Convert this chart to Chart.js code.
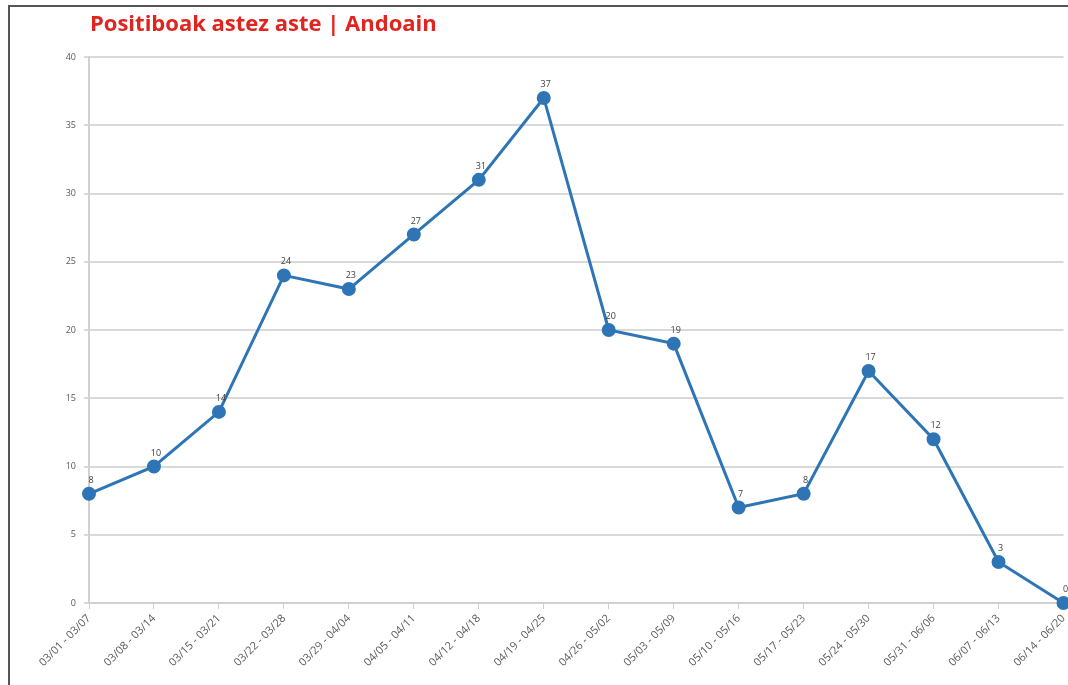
<!DOCTYPE html>
<html>
<head>
<meta charset="utf-8">
<script src="https://cdn.jsdelivr.net/npm/chart.js@4.4.1/dist/chart.umd.min.js"></script>
<style>
  html, body { margin: 0; padding: 0; background: #fff; }
  #wrap { position: relative; width: 1068px; height: 685px; overflow: hidden; }
  #frame { position: absolute; left: 8px; top: 5px; width: 1100px; height: 700px;
           border-left: 2px solid #555; border-top: 2px solid #555; pointer-events: none; }
  canvas { position: absolute; left: 0; top: 0; }
</style>
</head>
<body>
<div id="wrap">
  <canvas id="c" width="1072" height="685"></canvas>
  <div id="frame"></div>
</div>
<script>
const titleText = "Positiboak astez aste | Andoain";
const weeks = ["03/01 - 03/07", "03/08 - 03/14", "03/15 - 03/21", "03/22 - 03/28",
  "03/29 - 04/04", "04/05 - 04/11", "04/12 - 04/18", "04/19 - 04/25",
  "04/26 - 05/02", "05/03 - 05/09", "05/10 - 05/16", "05/17 - 05/23",
  "05/24 - 05/30", "05/31 - 06/06", "06/07 - 06/13", "06/14 - 06/20"];
const positives = [8, 10, 14, 24, 23, 27, 31, 37, 20, 19, 7, 8, 17, 12, 3, 0];
const yTicks = [0, 5, 10, 15, 20, 25, 30, 35, 40];

const titlePlugin = {
  id: 'titleDraw',
  afterDraw(chart) {
    const ctx = chart.ctx;
    ctx.save();
    ctx.font = 'bold 22px "Open Sans", Lato, sans-serif';
    ctx.fillStyle = '#e0241f';
    ctx.textBaseline = 'middle';
    ctx.textAlign = 'left';
    ctx.fillText(titleText, 90, 25);
    ctx.restore();
  }
};

const labelPlugin = {
  id: 'valueLabels',
  afterDatasetsDraw(chart) {
    const ctx = chart.ctx;
    const meta = chart.getDatasetMeta(0);
    ctx.save();
    ctx.font = '9px "Open Sans", sans-serif';
    ctx.fillStyle = '#404040';
    ctx.textAlign = 'center';
    ctx.textBaseline = 'bottom';
    meta.data.forEach((pt, i) => {
      ctx.fillText(String(positives[i]), pt.x + 2, pt.y - 9);
    });
    ctx.restore();
  }
};

new Chart(document.getElementById('c'), {
  type: 'line',
  data: {
    labels: weeks,
    datasets: [{
      data: positives,
      borderColor: '#2e75b6',
      backgroundColor: '#2e75b6',
      borderWidth: 3,
      pointRadius: 5.5,
      pointHoverRadius: 5.5,
      pointBackgroundColor: '#2e75b6',
      pointBorderColor: '#2e75b6',
      tension: 0,
      clip: false
    }]
  },
  options: {
    responsive: false,
    animation: false,
    layout: { padding: { top: 57, right: -2, bottom: 0, left: 0 } },
    plugins: { legend: { display: false }, tooltip: { enabled: false }, title: { display: false } },
    scales: {
      x: {
        offset: false,
        grid: { display: true, drawOnChartArea: false, color: '#d0d0d0', tickLength: 6 },
        border: { color: '#d0d0d0', width: 2 },
        ticks: {
          autoSkip: false, minRotation: 45, maxRotation: 45,
          color: '#595959', font: { size: 11, family: '"Open Sans", sans-serif' }, padding: 3
        },
        afterFit(scale) { scale.height = 82; scale.paddingLeft = 0; scale.paddingRight = 0; }
      },
      y: {
        min: 0, max: 40,
        afterBuildTicks(scale) { scale.ticks = yTicks.map(v => ({ value: v })); },
        grid: { color: '#d9d9d9', lineWidth: 2, tickLength: 5 },
        border: { color: '#d0d0d0', width: 2 },
        ticks: { color: '#595959', font: { size: 9, family: '"Open Sans", sans-serif' }, padding: 8 },
        afterFit(scale) { scale.width = 89; }
      }
    }
  },
  plugins: [titlePlugin, labelPlugin]
});
</script>
</body>
</html>
